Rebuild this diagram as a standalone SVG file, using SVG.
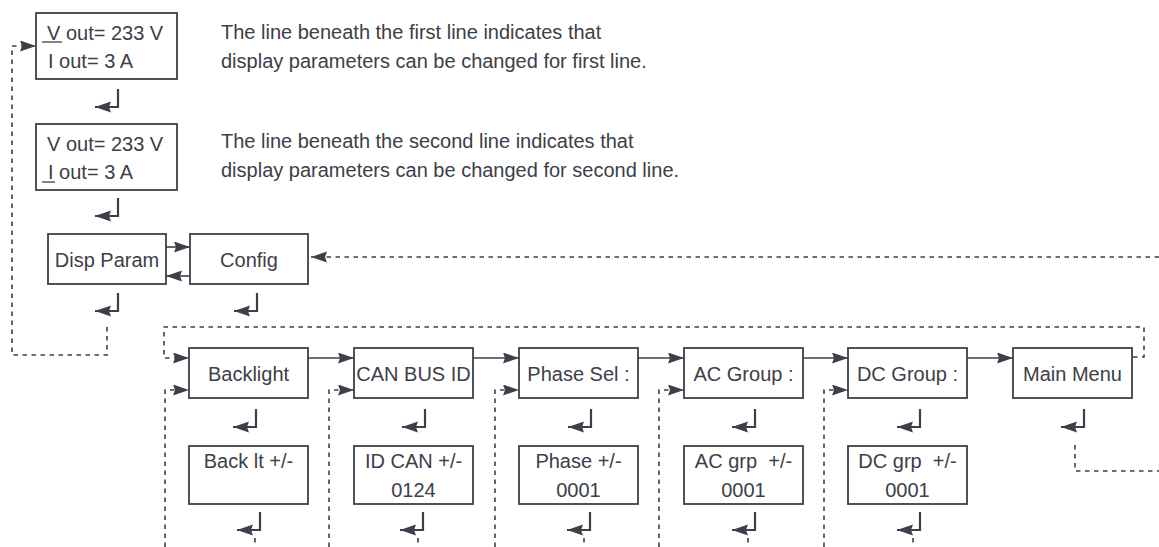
<svg xmlns="http://www.w3.org/2000/svg" xmlns:xlink="http://www.w3.org/1999/xlink" width="1159" height="547" viewBox="0 0 1159 547">
<style>
.box{fill:#fff;stroke:#3c4048;stroke-width:1.8}
.t{font-family:"Liberation Sans",Arial,sans-serif;font-size:20px;fill:#3c4048;white-space:pre}
.c{text-anchor:middle}
.solid{fill:none;stroke:#3c4048;stroke-width:1.6}
.dash{fill:none;stroke:#3c4048;stroke-width:1.6;stroke-dasharray:4.5 4.5}
.ul{stroke:#3c4048;stroke-width:1.3}
</style>
<defs>
<marker id="ah" markerUnits="userSpaceOnUse" markerWidth="17" markerHeight="12" refX="16" refY="5.5" orient="auto">
<path d="M0,0 L16,5.5 L0,11 L2,5.5 z" fill="#3c4048"/>
</marker>
<g id="enter"><path d="M0,0 V18 H-23" fill="none" stroke="#3c4048" stroke-width="2.2" marker-end="url(#ah)"/></g>
</defs>
<rect width="1159" height="547" fill="#fff"/>

<g id="connectors">
<path class="dash" d="M107,327 V355 H12 V46 H36" marker-end="url(#ah)"/>
<path class="dash" d="M1159,257 H311" marker-end="url(#ah)"/>
<path class="dash" d="M1133,357 H1144 V327 H164 V358 H189" marker-end="url(#ah)"/>
<path class="dash" d="M1075,445 V471 H1159"/>
<path class="dash" d="M165,547 V390 H189" marker-end="url(#ah)"/>
<path class="dash" d="M329,547 V390 H354" marker-end="url(#ah)"/>
<path class="dash" d="M495,547 V390 H519" marker-end="url(#ah)"/>
<path class="dash" d="M659,547 V390 H684" marker-end="url(#ah)"/>
<path class="dash" d="M824,547 V390 H848" marker-end="url(#ah)"/>
<path class="dash" d="M255,538 V547 M418,538 V547 M584,538 V547 M748,538 V547 M913,538 V547"/>
<path class="solid" d="M166,247 H190" marker-end="url(#ah)"/>
<path class="solid" d="M190,276 H166" marker-end="url(#ah)"/>
<path class="solid" d="M308,358 H354" marker-end="url(#ah)"/>
<path class="solid" d="M473,358 H519" marker-end="url(#ah)"/>
<path class="solid" d="M638,358 H684" marker-end="url(#ah)"/>
<path class="solid" d="M803,358 H848" marker-end="url(#ah)"/>
<path class="solid" d="M967,358 H1013" marker-end="url(#ah)"/>
<use xlink:href="#enter" x="118" y="89"/>
<use xlink:href="#enter" x="118" y="198"/>
<use xlink:href="#enter" x="118" y="293"/>
<use xlink:href="#enter" x="257" y="293"/>
<use xlink:href="#enter" x="256" y="409"/>
<use xlink:href="#enter" x="425" y="409"/>
<use xlink:href="#enter" x="591" y="409"/>
<use xlink:href="#enter" x="755" y="409"/>
<use xlink:href="#enter" x="920" y="409"/>
<use xlink:href="#enter" x="1084" y="409"/>
<use xlink:href="#enter" x="260" y="512"/>
<use xlink:href="#enter" x="423" y="512"/>
<use xlink:href="#enter" x="590" y="512"/>
<use xlink:href="#enter" x="755" y="512"/>
<use xlink:href="#enter" x="920" y="512"/>
</g>

<g id="display1">
<rect class="box" x="36" y="13" width="141" height="66"/>
<text class="t" x="47" y="40">V out= 233 V</text>
<text class="t" x="48" y="68">I out= 3 A</text>
<line class="ul" x1="42" y1="42" x2="62" y2="42"/>
</g>
<g id="display2">
<rect class="box" x="36" y="124" width="141" height="66"/>
<text class="t" x="47" y="151">V out= 233 V</text>
<text class="t" x="48" y="179">I out= 3 A</text>
<line class="ul" x1="42" y1="182" x2="55" y2="182"/>
</g>
<g id="notes">
<text class="t" x="221" y="39">The line beneath the first line indicates that</text>
<text class="t" x="221" y="68">display parameters can be changed for first line.</text>
<text class="t" x="221" y="148">The line beneath the second line indicates that</text>
<text class="t" x="221" y="177">display parameters can be changed for second line.</text>
</g>
<g id="disp-param">
<rect class="box" x="48" y="234" width="118" height="50"/>
<text class="t c" x="107" y="267">Disp Param</text>
</g>
<g id="config">
<rect class="box" x="190" y="234" width="118" height="50"/>
<text class="t c" x="249" y="267">Config</text>
</g>
<g id="backlight">
<rect class="box" x="189" y="348" width="119" height="50"/>
<text class="t c" x="248.5" y="381">Backlight</text>
</g>
<g id="can-bus-id">
<rect class="box" x="354" y="348" width="119" height="50"/>
<text class="t c" x="413.5" y="381">CAN BUS ID</text>
</g>
<g id="phase-sel">
<rect class="box" x="519" y="348" width="119" height="50"/>
<text class="t c" x="578.5" y="381">Phase Sel :</text>
</g>
<g id="ac-group">
<rect class="box" x="684" y="348" width="119" height="50"/>
<text class="t c" x="743.5" y="381">AC Group :</text>
</g>
<g id="dc-group">
<rect class="box" x="848" y="348" width="119" height="50"/>
<text class="t c" x="907.5" y="381">DC Group :</text>
</g>
<g id="main-menu">
<rect class="box" x="1013" y="348" width="119" height="50"/>
<text class="t c" x="1072.5" y="381">Main Menu</text>
</g>
<g id="back-lt">
<rect class="box" x="189" y="446" width="119" height="58"/>
<text class="t c" x="248.5" y="468">Back lt +/-</text>
</g>
<g id="id-can">
<rect class="box" x="354" y="446" width="119" height="58"/>
<text class="t c" x="413.5" y="468">ID CAN +/-</text>
<text class="t c" x="413.5" y="497">0124</text>
</g>
<g id="phase">
<rect class="box" x="519" y="446" width="119" height="58"/>
<text class="t c" x="578.5" y="468">Phase +/-</text>
<text class="t c" x="578.5" y="497">0001</text>
</g>
<g id="ac-grp">
<rect class="box" x="684" y="446" width="119" height="58"/>
<text class="t c" x="743.5" y="468">AC grp  +/-</text>
<text class="t c" x="743.5" y="497">0001</text>
</g>
<g id="dc-grp">
<rect class="box" x="848" y="446" width="119" height="58"/>
<text class="t c" x="907.5" y="468">DC grp  +/-</text>
<text class="t c" x="907.5" y="497">0001</text>
</g>
</svg>
